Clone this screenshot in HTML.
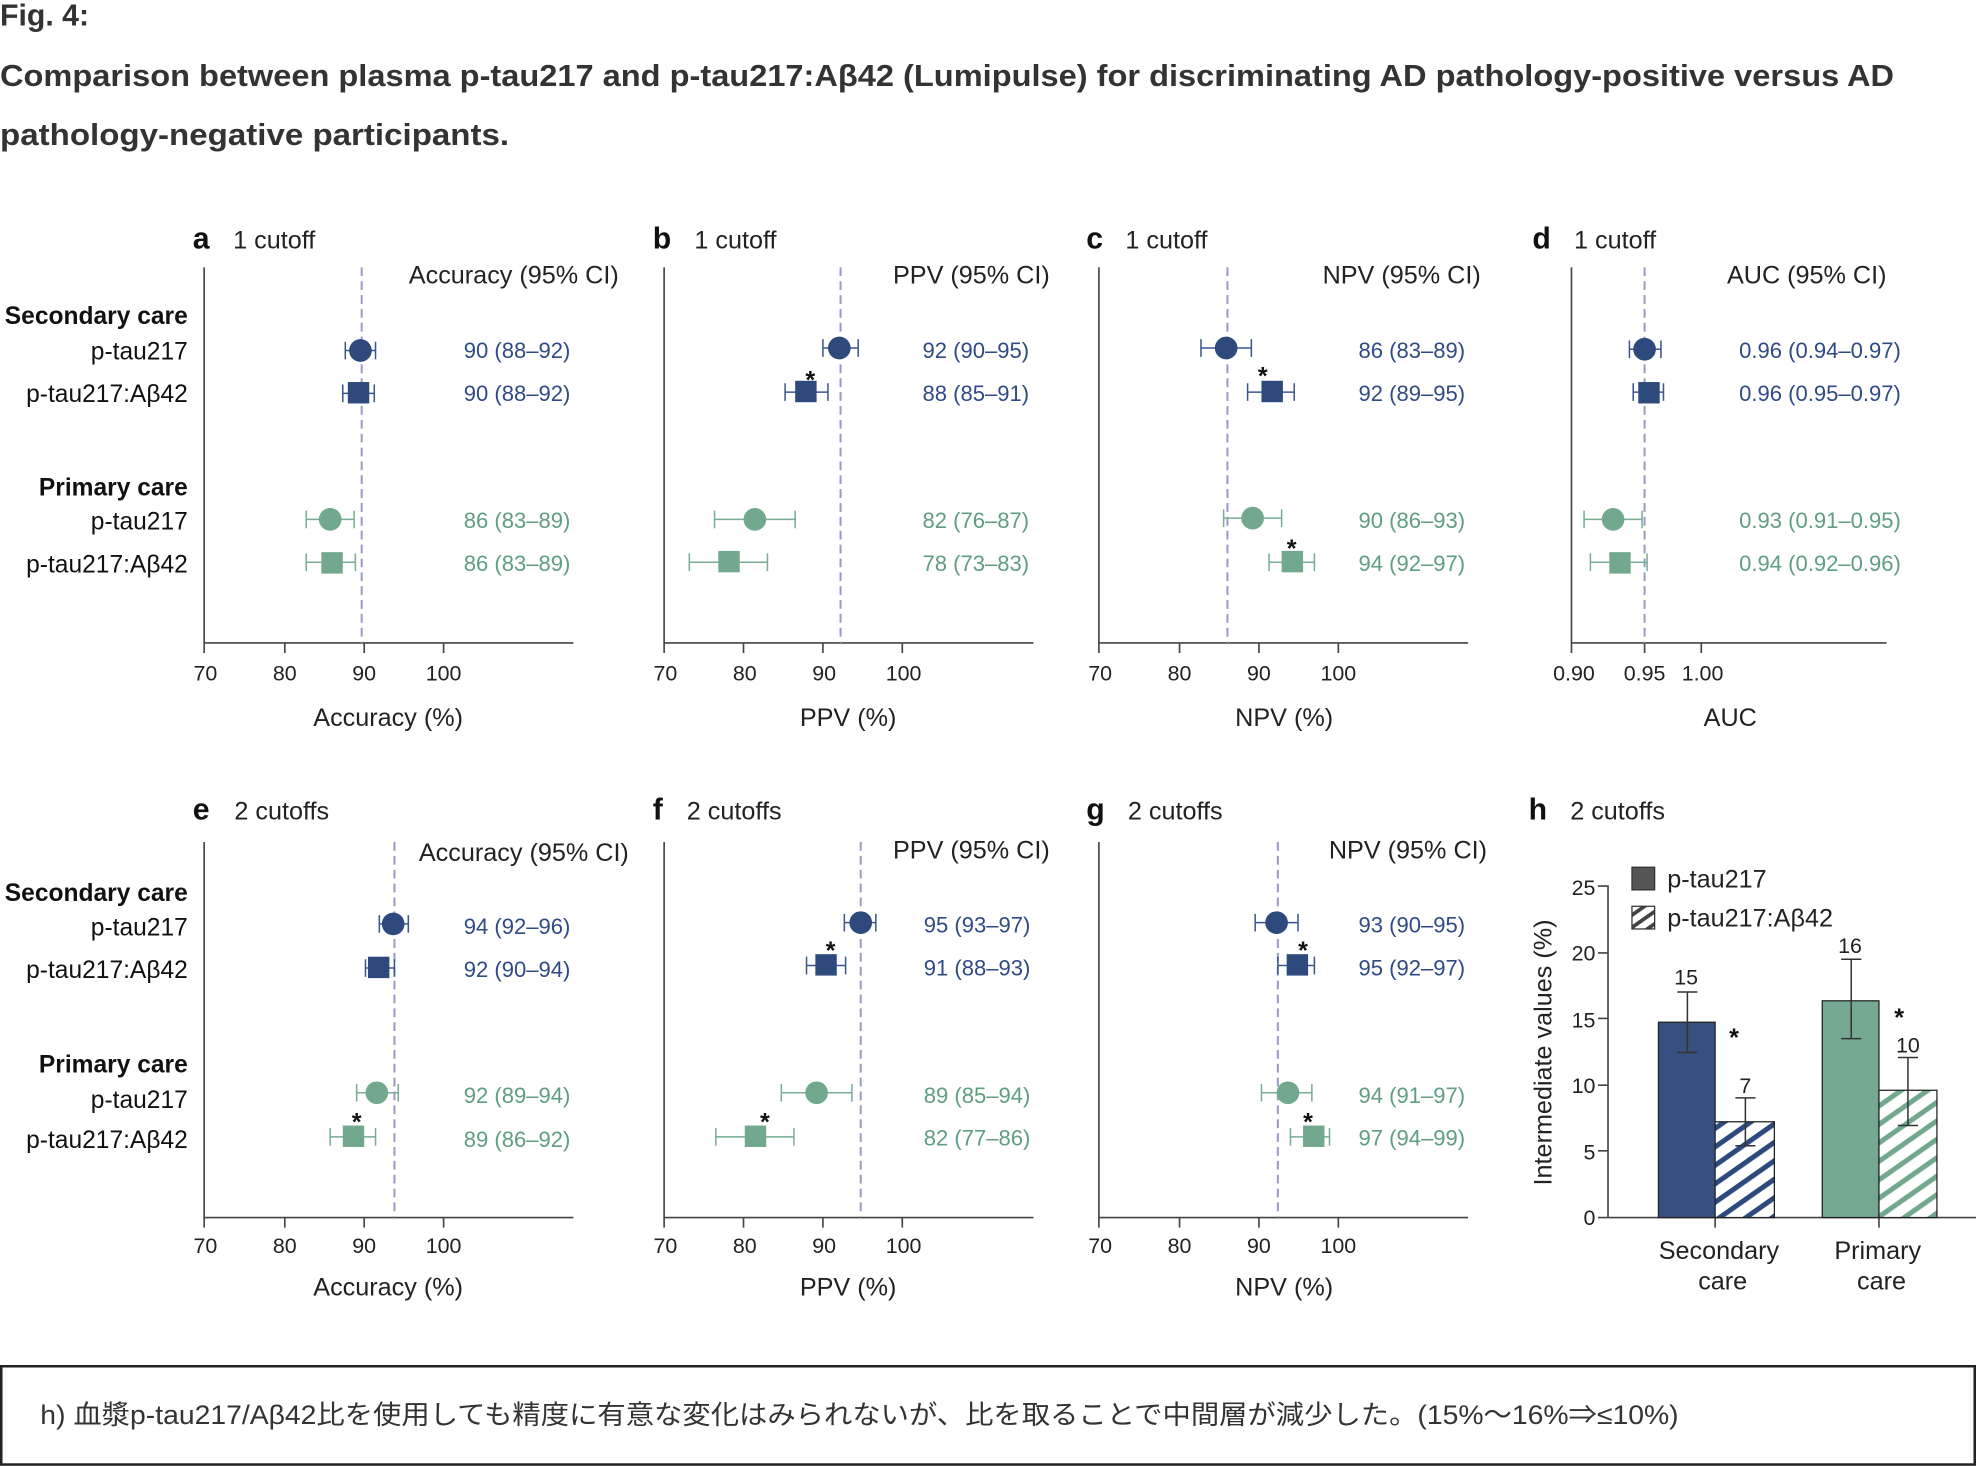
<!DOCTYPE html>
<html><head><meta charset="utf-8"><style>
html,body{margin:0;padding:0;background:#fff;}
svg{display:block;}
text{font-family:"Liberation Sans","Noto Sans CJK JP",sans-serif;}
.t{font-size:24px;font-weight:bold;fill:#333;}
.pl{font-size:24px;font-weight:bold;fill:#111;}
.pt{font-size:20px;fill:#222;}
.lb{font-size:19.5px;fill:#111;text-anchor:end;}
.lbb{font-size:19.5px;fill:#111;text-anchor:end;font-weight:bold;}
.tk{font-size:17px;fill:#222;text-anchor:middle;}
.vb{font-size:17.5px;fill:#2f4a85;}
.vg{font-size:17.5px;fill:#5f9e80;}
.st{font-size:20px;font-weight:bold;fill:#111;text-anchor:middle;}
.ax{stroke:#444;stroke-width:1.3;fill:none;}
.ds{stroke:#9a9ac8;stroke-width:1.6;stroke-dasharray:7,4;fill:none;}
.eb{stroke:#3a5590;stroke-width:1.2;fill:none;}
.eg{stroke:#78ad93;stroke-width:1.2;fill:none;}
.mb{fill:#2e4a7d;}
.mg{fill:#72a88d;}
</style></head><body>
<svg width="1976" height="1466" viewBox="0 0 1568 1163" xmlns="http://www.w3.org/2000/svg">
<defs>
<pattern id="hb" width="12" height="12" patternUnits="userSpaceOnUse" patternTransform="rotate(-35)"><rect width="12" height="12" fill="#fff"/><rect width="12" height="4" fill="#2e4a7d"/></pattern>
<pattern id="hg" width="12" height="12" patternUnits="userSpaceOnUse" patternTransform="rotate(-35)"><rect width="12" height="12" fill="#fff"/><rect width="12" height="4" fill="#72a88d"/></pattern>
<pattern id="hk" width="8" height="8" patternUnits="userSpaceOnUse" patternTransform="rotate(-35)"><rect width="8" height="8" fill="#fff"/><rect width="8" height="3" fill="#444"/></pattern>
</defs>

<text class="t" x="0" y="20">Fig. 4:</text>
<text class="t" x="0" y="68" textLength="1503" lengthAdjust="spacingAndGlyphs">Comparison between plasma p-tau217 and p-tau217:Aβ42 (Lumipulse) for discriminating AD pathology-positive versus AD</text>
<text class="t" x="0" y="115" textLength="404" lengthAdjust="spacingAndGlyphs">pathology-negative participants.</text>

<g>
<text class="lbb" x="149" y="257">Secondary care</text>
<text class="lb" x="149" y="285">p-tau217</text>
<text class="lb" x="149" y="319">p-tau217:Aβ42</text>
<text class="lbb" x="149" y="393">Primary care</text>
<text class="lb" x="149" y="420">p-tau217</text>
<text class="lb" x="149" y="454">p-tau217:Aβ42</text>
</g>
<g>
<text class="lbb" x="149" y="715">Secondary care</text>
<text class="lb" x="149" y="742">p-tau217</text>
<text class="lb" x="149" y="776">p-tau217:Aβ42</text>
<text class="lbb" x="149" y="851">Primary care</text>
<text class="lb" x="149" y="879">p-tau217</text>
<text class="lb" x="149" y="911">p-tau217:Aβ42</text>
</g>

<!-- Panel a -->
<text class="pl" x="153" y="197">a</text><text class="pt" x="185" y="197">1 cutoff</text>
<text class="pt" x="491" y="225" text-anchor="end">Accuracy (95% CI)</text>
<path class="ax" d="M162 212V510H455M162 510v8M226 510v8M289 510v8M352 510v8"/>
<text class="tk" x="163" y="540">70</text><text class="tk" x="226" y="540">80</text><text class="tk" x="289" y="540">90</text><text class="tk" x="352" y="540">100</text>
<text class="pt" x="308" y="576" text-anchor="middle">Accuracy (%)</text>
<line class="ds" x1="287" y1="212" x2="287" y2="510"/>
<path class="eb" d="M274 278H298M274 271v14M298 271v14"/><circle class="mb" cx="286" cy="278" r="9"/>
<path class="eb" d="M272 312H297M272 305v14M297 305v14"/><rect class="mb" x="276" y="303" width="17" height="17"/>
<path class="eg" d="M243 412H281M243 405v14M281 405v14"/><circle class="mg" cx="262" cy="412" r="9"/>
<path class="eg" d="M243 446H282M243 439v14M282 439v14"/><rect class="mg" x="255" y="438" width="17" height="17"/>
<text class="vb" x="368" y="284">90 (88–92)</text><text class="vb" x="368" y="318">90 (88–92)</text>
<text class="vg" x="368" y="419">86 (83–89)</text><text class="vg" x="368" y="453">86 (83–89)</text>

<!-- Panel b -->
<text class="pl" x="518" y="197">b</text><text class="pt" x="551" y="197">1 cutoff</text>
<text class="pt" x="833" y="225" text-anchor="end">PPV (95% CI)</text>
<path class="ax" d="M527 212V510H820M527 510v8M590 510v8M653 510v8M716 510v8"/>
<text class="tk" x="528" y="540">70</text><text class="tk" x="591" y="540">80</text><text class="tk" x="654" y="540">90</text><text class="tk" x="717" y="540">100</text>
<text class="pt" x="673" y="576" text-anchor="middle">PPV (%)</text>
<line class="ds" x1="667" y1="212" x2="667" y2="510"/>
<path class="eb" d="M653 276H681M653 269v14M681 269v14"/><circle class="mb" cx="666" cy="276" r="9"/>
<path class="eb" d="M623 311H657M623 304v14M657 304v14"/><rect class="mb" x="631" y="302" width="17" height="17"/>
<text class="st" x="643" y="308">*</text>
<path class="eg" d="M567 412H631M567 405v14M631 405v14"/><circle class="mg" cx="599" cy="412" r="9"/>
<path class="eg" d="M547 446H609M547 439v14M609 439v14"/><rect class="mg" x="570" y="437" width="17" height="17"/>
<text class="vb" x="732" y="284">92 (90–95)</text><text class="vb" x="732" y="318">88 (85–91)</text>
<text class="vg" x="732" y="419">82 (76–87)</text><text class="vg" x="732" y="453">78 (73–83)</text>

<!-- Panel c -->
<text class="pl" x="862" y="197">c</text><text class="pt" x="893" y="197">1 cutoff</text>
<text class="pt" x="1175" y="225" text-anchor="end">NPV (95% CI)</text>
<path class="ax" d="M872 212V510H1165M872 510v8M936 510v8M999 510v8M1062 510v8"/>
<text class="tk" x="873" y="540">70</text><text class="tk" x="936" y="540">80</text><text class="tk" x="999" y="540">90</text><text class="tk" x="1062" y="540">100</text>
<text class="pt" x="1019" y="576" text-anchor="middle">NPV (%)</text>
<line class="ds" x1="974" y1="212" x2="974" y2="510"/>
<path class="eb" d="M953 276H993M953 269v14M993 269v14"/><circle class="mb" cx="973" cy="276" r="9"/>
<path class="eb" d="M990 311H1027M990 304v14M1027 304v14"/><rect class="mb" x="1001" y="302" width="17" height="17"/>
<text class="st" x="1002" y="305">*</text>
<path class="eg" d="M971 411H1017M971 404v14M1017 404v14"/><circle class="mg" cx="994" cy="411" r="9"/>
<path class="eg" d="M1007 446H1043M1007 439v14M1043 439v14"/><rect class="mg" x="1017" y="437" width="17" height="17"/>
<text class="st" x="1025" y="442">*</text>
<text class="vb" x="1078" y="284">86 (83–89)</text><text class="vb" x="1078" y="318">92 (89–95)</text>
<text class="vg" x="1078" y="419">90 (86–93)</text><text class="vg" x="1078" y="453">94 (92–97)</text>

<!-- Panel d -->
<text class="pl" x="1216" y="197">d</text><text class="pt" x="1249" y="197">1 cutoff</text>
<text class="pt" x="1497" y="225" text-anchor="end">AUC (95% CI)</text>
<path class="ax" d="M1247 212V510H1497M1247 510v8M1305 510v8M1350 510v8"/>
<text class="tk" x="1249" y="540">0.90</text><text class="tk" x="1305" y="540">0.95</text><text class="tk" x="1351" y="540">1.00</text>
<text class="pt" x="1373" y="576" text-anchor="middle">AUC</text>
<line class="ds" x1="1305" y1="212" x2="1305" y2="510"/>
<path class="eb" d="M1293 277H1318M1293 270v14M1318 270v14"/><circle class="mb" cx="1305" cy="277" r="9"/>
<path class="eb" d="M1296 311H1320M1296 304v14M1320 304v14"/><rect class="mb" x="1300" y="303" width="17" height="17"/>
<path class="eg" d="M1257 412H1303M1257 405v14M1303 405v14"/><circle class="mg" cx="1280" cy="412" r="9"/>
<path class="eg" d="M1262 446H1307M1262 439v14M1307 439v14"/><rect class="mg" x="1277" y="438" width="17" height="17"/>
<text class="vb" x="1380" y="284">0.96 (0.94–0.97)</text><text class="vb" x="1380" y="318">0.96 (0.95–0.97)</text>
<text class="vg" x="1380" y="419">0.93 (0.91–0.95)</text><text class="vg" x="1380" y="453">0.94 (0.92–0.96)</text>

<!-- Panel e -->
<text class="pl" x="153" y="650">e</text><text class="pt" x="186" y="650">2 cutoffs</text>
<text class="pt" x="499" y="683" text-anchor="end">Accuracy (95% CI)</text>
<path class="ax" d="M162 668V966H455M162 966v8M226 966v8M289 966v8M352 966v8"/>
<text class="tk" x="163" y="994">70</text><text class="tk" x="226" y="994">80</text><text class="tk" x="289" y="994">90</text><text class="tk" x="352" y="994">100</text>
<text class="pt" x="308" y="1028" text-anchor="middle">Accuracy (%)</text>
<line class="ds" x1="313" y1="668" x2="313" y2="966"/>
<path class="eb" d="M301 733H324M301 726v14M324 726v14"/><circle class="mb" cx="312" cy="733" r="9"/>
<path class="eb" d="M290 768H313M290 761v14M313 761v14"/><rect class="mb" x="292" y="759" width="17" height="17"/>
<path class="eg" d="M283 867H316M283 860v14M316 860v14"/><circle class="mg" cx="299" cy="867" r="9"/>
<path class="eg" d="M262 902H298M262 895v14M298 895v14"/><rect class="mg" x="272" y="893" width="17" height="17"/>
<text class="st" x="283" y="897">*</text>
<text class="vb" x="368" y="741">94 (92–96)</text><text class="vb" x="368" y="775">92 (90–94)</text>
<text class="vg" x="368" y="875">92 (89–94)</text><text class="vg" x="368" y="910">89 (86–92)</text>

<!-- Panel f -->
<text class="pl" x="518" y="650">f</text><text class="pt" x="545" y="650">2 cutoffs</text>
<text class="pt" x="833" y="681" text-anchor="end">PPV (95% CI)</text>
<path class="ax" d="M527 668V966H820M527 966v8M590 966v8M653 966v8M716 966v8"/>
<text class="tk" x="528" y="994">70</text><text class="tk" x="591" y="994">80</text><text class="tk" x="654" y="994">90</text><text class="tk" x="717" y="994">100</text>
<text class="pt" x="673" y="1028" text-anchor="middle">PPV (%)</text>
<line class="ds" x1="683" y1="668" x2="683" y2="966"/>
<path class="eb" d="M670 732H695M670 725v14M695 725v14"/><circle class="mb" cx="683" cy="732" r="9"/>
<path class="eb" d="M640 766H671M640 759v14M671 759v14"/><rect class="mb" x="647" y="757" width="17" height="17"/>
<text class="st" x="659" y="761">*</text>
<path class="eg" d="M620 867H676M620 860v14M676 860v14"/><circle class="mg" cx="648" cy="867" r="9"/>
<path class="eg" d="M568 902H630M568 895v14M630 895v14"/><rect class="mg" x="591" y="893" width="17" height="17"/>
<text class="st" x="607" y="897">*</text>
<text class="vb" x="733" y="740">95 (93–97)</text><text class="vb" x="733" y="774">91 (88–93)</text>
<text class="vg" x="733" y="875">89 (85–94)</text><text class="vg" x="733" y="909">82 (77–86)</text>

<!-- Panel g -->
<text class="pl" x="862" y="650">g</text><text class="pt" x="895" y="650">2 cutoffs</text>
<text class="pt" x="1180" y="681" text-anchor="end">NPV (95% CI)</text>
<path class="ax" d="M872 668V966H1165M872 966v8M936 966v8M999 966v8M1062 966v8"/>
<text class="tk" x="873" y="994">70</text><text class="tk" x="936" y="994">80</text><text class="tk" x="999" y="994">90</text><text class="tk" x="1062" y="994">100</text>
<text class="pt" x="1019" y="1028" text-anchor="middle">NPV (%)</text>
<line class="ds" x1="1014" y1="668" x2="1014" y2="966"/>
<path class="eb" d="M996 732H1030M996 725v14M1030 725v14"/><circle class="mb" cx="1013" cy="732" r="9"/>
<path class="eb" d="M1014 766H1043M1014 759v14M1043 759v14"/><rect class="mb" x="1021" y="757" width="17" height="17"/>
<text class="st" x="1034" y="761">*</text>
<path class="eg" d="M1001 867H1041M1001 860v14M1041 860v14"/><circle class="mg" cx="1022" cy="867" r="9"/>
<path class="eg" d="M1024 902H1055M1024 895v14M1055 895v14"/><rect class="mg" x="1034" y="893" width="17" height="17"/>
<text class="st" x="1038" y="897">*</text>
<text class="vb" x="1078" y="740">93 (90–95)</text><text class="vb" x="1078" y="774">95 (92–97)</text>
<text class="vg" x="1078" y="875">94 (91–97)</text><text class="vg" x="1078" y="909">97 (94–99)</text>

<!-- Panel h -->
<text class="pl" x="1213" y="650">h</text><text class="pt" x="1246" y="650">2 cutoffs</text>
<path class="ax" d="M1268 703H1276V966H1568M1268 756H1276M1268 808H1276M1268 861H1276M1268 913H1276M1268 966H1276M1361 966v8M1491 966v8"/>
<g class="tk">
<text x="1266" y="710" text-anchor="end">25</text><text x="1266" y="762" text-anchor="end">20</text><text x="1266" y="815" text-anchor="end">15</text><text x="1266" y="867" text-anchor="end">10</text><text x="1266" y="920" text-anchor="end">5</text><text x="1266" y="972" text-anchor="end">0</text>
</g>
<text class="pt" transform="translate(1231 835) rotate(-90)" text-anchor="middle">Intermediate values (%)</text>
<rect x="1295" y="688" width="18" height="18" fill="#555" stroke="#333" stroke-width="1"/>
<text class="pt" x="1323" y="704">p-tau217</text>
<rect x="1295" y="719" width="18" height="18" fill="url(#hk)" stroke="#333" stroke-width="1"/>
<text class="pt" x="1323" y="735">p-tau217:Aβ42</text>
<rect x="1316" y="811" width="45" height="155" fill="#36507f" stroke="#222" stroke-width="1"/>
<rect x="1361" y="890" width="47" height="76" fill="url(#hb)" stroke="#222" stroke-width="1"/>
<rect x="1446" y="794" width="45" height="172" fill="#74a890" stroke="#222" stroke-width="1"/>
<rect x="1491" y="865" width="46" height="101" fill="url(#hg)" stroke="#222" stroke-width="1"/>
<path stroke="#333" stroke-width="1.2" fill="none" d="M1339 787V835M1331 787H1347M1331 835H1347M1385 871V909M1377 871H1393M1377 909H1393M1469 761V824M1461 761H1477M1461 824H1477M1514 839V893M1506 839H1522M1506 893H1522"/>
<text class="tk" x="1338" y="781">15</text><text class="tk" x="1385" y="867">7</text>
<text class="tk" x="1468" y="756">16</text><text class="tk" x="1514" y="835">10</text>
<text class="st" x="1376" y="830">*</text><text class="st" x="1507" y="814">*</text>
<text class="pt" x="1364" y="999" text-anchor="middle">Secondary</text><text class="pt" x="1367" y="1023" text-anchor="middle">care</text>
<text class="pt" x="1490" y="999" text-anchor="middle">Primary</text><text class="pt" x="1493" y="1023" text-anchor="middle">care</text>

<!-- bottom box -->
<rect x="1" y="1084" width="1566" height="78" fill="#fff" stroke="#222" stroke-width="2"/>
<text x="32" y="1130" textLength="1300" lengthAdjust="spacingAndGlyphs" style="font-size:21px;fill:#333">h) 血漿p-tau217/Aβ42比を使用しても精度に有意な変化はみられないが、比を取ることで中間層が減少した。(15%～16%⇒≤10%)</text>
</svg>
</body></html>
